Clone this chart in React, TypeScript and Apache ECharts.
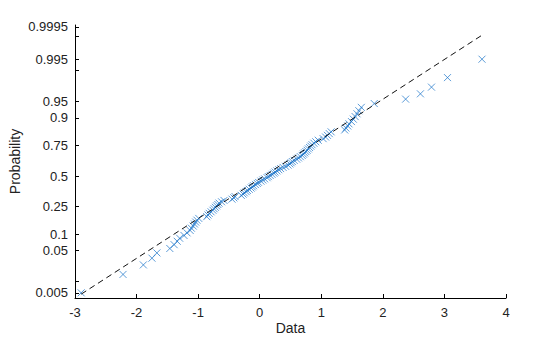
import React, { useEffect, useRef } from "react";
import * as echarts from "echarts";

// Sorted sample values, one per plotting position
const dataValues = [
  -2.90, -2.22, -1.89, -1.75, -1.67, -1.46, -1.39, -1.34, -1.30, -1.23,
  -1.18, -1.13, -1.11, -1.08, -1.06, -1.04, -1.02, -0.99, -0.86, -0.84,
  -0.82, -0.79, -0.76, -0.74, -0.72, -0.70, -0.68, -0.66, -0.62, -0.58,
  -0.45, -0.42, -0.40, -0.30, -0.27, -0.25, -0.22, -0.20, -0.17, -0.14,
  -0.12, -0.10, -0.07, -0.04, -0.02, 0.02, 0.05, 0.08, 0.12, 0.14,
  0.17, 0.20, 0.23, 0.25, 0.28, 0.31, 0.34, 0.38, 0.42, 0.46,
  0.49, 0.51, 0.53, 0.56, 0.60, 0.63, 0.66, 0.69, 0.71, 0.73,
  0.75, 0.77, 0.79, 0.81, 0.83, 0.85, 0.88, 0.91, 0.95, 1.03,
  1.07, 1.10, 1.13, 1.16, 1.38, 1.40, 1.43, 1.45, 1.49, 1.52,
  1.55, 1.58, 1.61, 1.65, 1.86, 2.37, 2.61, 2.79, 3.05, 3.61,
];

// Probability tick marks (labelled and unlabelled)
const probLabels = ["0.005", "0.05", "0.1", "0.25", "0.5", "0.75", "0.9", "0.95", "0.995", "0.9995"];
const probTicks = [0.005, 0.01, 0.05, 0.1, 0.25, 0.5, 0.75, 0.9, 0.95, 0.99, 0.995, 0.999, 0.9995];

// Reference line (normal fit)
const refMu = 0.07;
const refSigma = 1.14;

// x axis ticks
const xMin = -3;
const xMax = 4;
const xInterval = 1;

// Inverse normal CDF (Acklam) – the probability-scale transform
function norminv(p: number): number {
  const a = [-3.969683028665376e1, 2.209460984245205e2, -2.759285104469687e2, 1.38357751867269e2, -3.066479806614716e1, 2.506628277459239];
  const b = [-5.447609879822406e1, 1.615858368580409e2, -1.556989798598866e2, 6.680131188771972e1, -1.328068155288572e1];
  const c = [-7.784894002430293e-3, -3.223964580411365e-1, -2.400758277161838, -2.549732539343734, 4.374664141464968, 2.938163982698783];
  const d = [7.784695709041462e-3, 3.224671290700398e-1, 2.445134137142996, 3.754408661907416];
  const pl = 0.02425;
  let q: number, r: number;
  if (p < pl) {
    q = Math.sqrt(-2 * Math.log(p));
    return (((((c[0] * q + c[1]) * q + c[2]) * q + c[3]) * q + c[4]) * q + c[5]) / ((((d[0] * q + d[1]) * q + d[2]) * q + d[3]) * q + 1);
  }
  if (p <= 1 - pl) {
    q = p - 0.5;
    r = q * q;
    return ((((((a[0] * r + a[1]) * r + a[2]) * r + a[3]) * r + a[4]) * r + a[5]) * q) / (((((b[0] * r + b[1]) * r + b[2]) * r + b[3]) * r + b[4]) * r + 1);
  }
  q = Math.sqrt(-2 * Math.log(1 - p));
  return -(((((c[0] * q + c[1]) * q + c[2]) * q + c[3]) * q + c[4]) * q + c[5]) / ((((d[0] * q + d[1]) * q + d[2]) * q + d[3]) * q + 1);
}

const FONT = "'Liberation Sans', Arial, Helvetica, sans-serif";

export default function App() {
  const ref = useRef<HTMLDivElement>(null);

  useEffect(() => {
    if (!ref.current) return;
    const chart = echarts.init(ref.current, undefined, { renderer: "svg" });
    const n = dataValues.length;
    const points = dataValues.map((x, i) => [x, norminv((i + 0.5) / n)]);
    const labelZ = probLabels.map((s) => norminv(parseFloat(s)));
    const tickZ = probTicks.map((p) => norminv(p));
    const x0 = dataValues[0];
    const x1 = dataValues[n - 1];
    const lineData = [
      [x0, (x0 - refMu) / refSigma],
      [x1, (x1 - refMu) / refSigma],
    ];

    chart.setOption({
      animation: false,
      grid: { left: 75, right: 54, top: 25, bottom: 39, containLabel: false, outerBoundsMode: "none" },
      xAxis: {
        type: "value",
        min: xMin,
        max: xMax,
        interval: xInterval,
        name: "Data",
        nameLocation: "middle",
        nameGap: 23,
        nameMoveOverlap: false,
        nameTextStyle: { fontFamily: FONT, fontSize: 14, color: "#222", lineHeight: 14 },
        axisLine: { show: true, onZero: false, lineStyle: { color: "#000", width: 1 } },
        axisTick: { show: true, inside: true, length: 4, lineStyle: { color: "#000" } },
        axisLabel: { fontFamily: FONT, fontSize: 13, color: "#222", margin: 8 },
        splitLine: { show: false },
      },
      yAxis: {
        type: "value",
        min: -2.69,
        max: 3.33,
        name: "Probability",
        nameLocation: "middle",
        nameGap: 53,
        nameMoveOverlap: false,
        nameTextStyle: { fontFamily: FONT, fontSize: 14, color: "#222", lineHeight: 14 },
        axisLine: { show: true, onZero: false, lineStyle: { color: "#000", width: 1 } },
        axisTick: { show: true, inside: true, length: 4, customValues: tickZ, lineStyle: { color: "#000" } },
        axisLabel: {
          fontFamily: FONT,
          fontSize: 13,
          color: "#222",
          margin: 7,
          customValues: labelZ,
          formatter: (v: number) => {
            let best = 0;
            let bd = Infinity;
            labelZ.forEach((z, i) => {
              const dd = Math.abs(z - v);
              if (dd < bd) {
                bd = dd;
                best = i;
              }
            });
            return probLabels[best];
          },
        },
        splitLine: { show: false },
      },
      series: [
        {
          type: "scatter",
          data: points,
          symbol: "path://M0,0L10,10M10,0L0,10",
          symbolSize: 7,
          itemStyle: { color: "transparent", borderColor: "#1a74c8", borderWidth: 0.9 },
          z: 2,
        },
        {
          type: "line",
          data: lineData,
          symbol: "none",
          lineStyle: { color: "#111", width: 1, type: [6, 4] },
          z: 3,
        },
      ],
    });
    return () => chart.dispose();
  }, []);

  return (
    <div
      ref={ref}
      style={{ position: "fixed", left: 0, top: 0, width: 560, height: 337, background: "#fff" }}
    />
  );
}
